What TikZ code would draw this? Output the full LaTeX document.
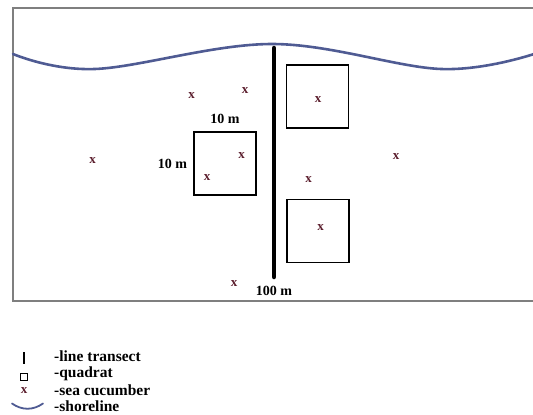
\documentclass[tikz,border=0pt]{standalone}
\usepackage{fontspec}
\setmainfont{Liberation Serif}
\usepackage{tikz}
\usetikzlibrary{positioning}
\definecolor{shoreblue}{HTML}{4F5B93}
\definecolor{cukered}{HTML}{5C1F2E}
\definecolor{framegray}{HTML}{7F7F7F}
\tikzset{quadrat/.style={draw=black,line width=1.4pt,minimum width=62pt,minimum height=63pt,inner sep=0pt}}
\tikzset{cuke/.style={text=cukered,font=\fontsize{13}{13}\selectfont\bfseries,inner sep=0pt}}
\tikzset{lbl/.style={font=\fontsize{14}{14}\selectfont\bfseries,inner sep=0pt}}
\tikzset{legtext/.style={font=\fontsize{15.5}{16}\selectfont\bfseries,inner sep=0pt,anchor=west}}
\tikzset{shore/.style={draw=shoreblue,line width=2.6pt,line cap=round}}
\tikzset{transect/.style={draw=black,line width=4.5pt,line cap=round}}

\begin{document}
\begin{tikzpicture}[x=1pt,y=-1pt]
      \useasboundingbox (0,0) rectangle (533,415);
      \draw[framegray,line width=1.4pt] (533,8) -- (13,8) -- (13,301) -- (533,301);
      \draw[shore] plot[smooth,tension=0.6] coordinates {(13,54) (95,69) (272,44) (441,69) (534,54)};

      \coordinate (tTop) at (274,48);
      \coordinate (tBot) at (274,277);
      \draw[transect] (tTop) -- (tBot);
      \node[lbl,below=9pt of tBot](len){100 m};

      \node[quadrat](qL) at (225,163.5){};
      \node[quadrat](qR1) at (317.5,96.5){};
      \node[quadrat](qR2) at (318,231){};
      \node[lbl,above=7pt of qL](side1){10 m};
      \node[lbl,left=6pt of qL](side2){10 m};

      \node[cuke](c1) at (191.5,95.5){x};
      \node[cuke](c2) at (245,90.5){x};
      \node[cuke](c3) at (92.5,160.5){x};
      \node[cuke](c4) at (241.5,156){x};
      \node[cuke](c5) at (207,177.5){x};
      \node[cuke](c6) at (318,100){x};
      \node[cuke](c7) at (308.5,180){x};
      \node[cuke](c8) at (396,157){x};
      \node[cuke](c9) at (320.5,227.5){x};
      \node[cuke](c10) at (234,283.5){x};

      \draw[black,line width=2.6pt] (24,352) -- (24,364);
      \draw[black,line width=0.8pt] (20.5,373.5) rectangle (27.5,380.5);
      \node[cuke](legc) at (24,390.5){x};
      \draw[shore,line width=1.8pt] (12,403.5) .. controls (22,410.5) and (33,410.5) .. (43,403.5);
      \node[legtext](leg1) at (54,356){-line transect};
      \node[legtext](leg2) at (54,373.5){-quadrat};
      \node[legtext](leg3) at (54,390.5){-sea cucumber};
      \node[legtext](leg4) at (54,406){-shoreline};
\end{tikzpicture}
\end{document}
